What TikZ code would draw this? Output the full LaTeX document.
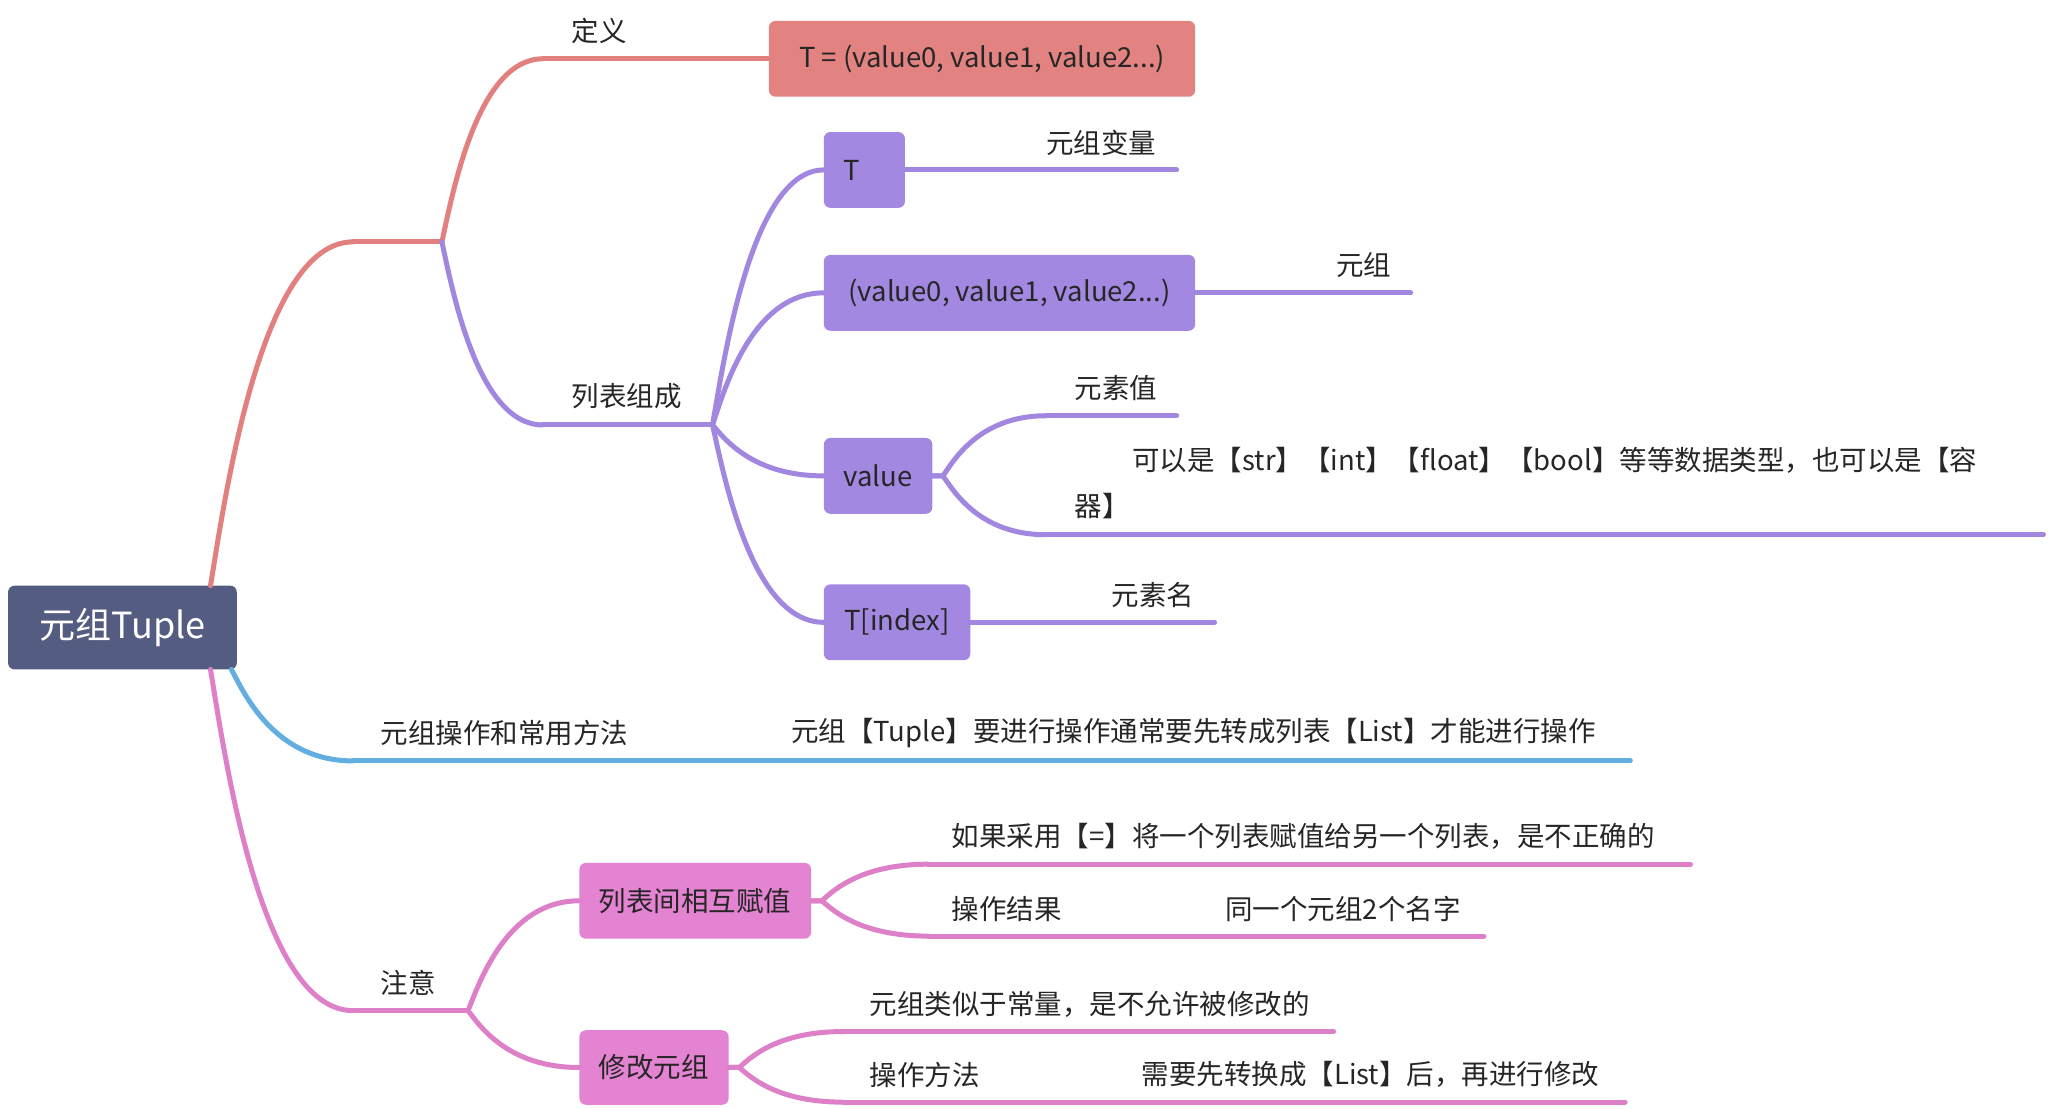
\documentclass[tikz,border=0pt]{standalone}
\usepackage{fontspec}
\setmainfont{Noto Sans CJK SC}
\usetikzlibrary{calc}
\definecolor{cRoot}{HTML}{555C82}
\definecolor{cRed}{HTML}{E1807E}
\definecolor{cRedBox}{HTML}{E38381}
\definecolor{cPur}{HTML}{A187DF}
\definecolor{cPurBox}{HTML}{A288E0}
\definecolor{cBlue}{HTML}{62AEE0}
\definecolor{cPink}{HTML}{DE80C8}
\definecolor{cPinkBox}{HTML}{E383D1}
\definecolor{cTxt}{HTML}{262626}
\def\uu{1.3074pt}
\newcommand\lblfont{\fontsize{27.5pt}{46pt}\selectfont}
\newcommand\rootfont{\fontsize{36pt}{42pt}\selectfont}
% connector: style, from, to, stub
\newcommand\mmc[4]{\draw[#1] let \p1=(#2), \p2=(#3) in (\p1) -- ++(#4,0) let \p3=($(\p1)+(#4,0)$) in .. controls ({\x3+0.1*(\x2-\x3)},{\y3+0.25*(\y2-\y3)}) and ({\x3+0.35*(\x2-\x3)},{\y2}) .. (\p2);}
\begin{document}
\begin{tikzpicture}[x=1.3074pt,y=-1.3074pt,
  ln/.style={line width=5pt, line cap=round},
  lbl/.style={anchor=west, inner sep=0pt, font=\lblfont, text=cTxt},
  box/.style={anchor=west, rounded corners=6.5pt, minimum height=58*\uu, inner xsep=15*\uu, inner ysep=0pt, font=\lblfont, text=cTxt}]
\useasboundingbox (0,0) rectangle (1568,847.5);
\fill[white] (0,0) rectangle (1568,847.5);

% root
\node[box, fill=cRoot, text=white, font=\rootfont, minimum width=175*\uu, minimum height=64*\uu] (root) at (6,480) {元组Tuple};
\coordinate (rTop) at (161,448);
\coordinate (rBlue) at (177,512);
\coordinate (rPink) at (161,512);

% ===== red branch
\coordinate (j1a) at (270,185);
\coordinate (j1) at (338,185);
\coordinate (d1) at (415,45);
\node[box, fill=cRedBox, minimum width=326*\uu] (defbox) at (588,45) {T = (value0, value1, value2...)};
\node[lbl] (lDef) at (437,24) {定义};
\mmc{ln, cRed}{rTop}{j1a}{0}
\draw[ln, cRed] (j1a) -- (j1);
\mmc{ln, cRed}{j1}{d1}{0}
\draw[ln, cRed] (d1) -- (defbox.west);

% ===== purple branch
\coordinate (l1) at (415,325);
\coordinate (l2) at (545,325);
\node[lbl] (lList) at (437,303) {列表组成};
\mmc{ln, cPur}{j1}{l1}{0}
\draw[ln, cPur] (l1) -- (l2);

\node[box, fill=cPurBox, minimum width=62*\uu, text width=32*\uu, align=left] (tbox) at (630,130) {T};
\node[box, fill=cPurBox, minimum width=284*\uu] (tupbox) at (630,224) {(value0, value1, value2...)};
\node[box, fill=cPurBox, minimum width=83*\uu] (valbox) at (630,364) {value};
\node[box, fill=cPurBox, minimum width=112*\uu] (idxbox) at (630,476) {T[index]};
\mmc{ln, cPur}{l2}{tbox.west}{0}
\mmc{ln, cPur}{l2}{tupbox.west}{0}
\mmc{ln, cPur}{l2}{valbox.west}{0}
\mmc{ln, cPur}{l2}{idxbox.west}{0}

\coordinate (tEnd) at (900,130);
\draw[ln, cPur] (tbox.east) -- (tEnd);
\node[lbl] (lTvar) at (800,109) {元组变量};

\coordinate (tupEnd) at (1079,224);
\draw[ln, cPur] (tupbox.east) -- (tupEnd);
\node[lbl] (lTup) at (1022,203) {元组};

\coordinate (v1) at (800,318);
\coordinate (v1e) at (900,318);
\coordinate (v2) at (800,409);
\coordinate (v2e) at (1563,409);
\mmc{ln, cPur}{valbox.east}{v1}{8}
\mmc{ln, cPur}{valbox.east}{v2}{8}
\draw[ln, cPur] (v1) -- (v1e);
\draw[ln, cPur] (v2) -- (v2e);
\node[lbl] (lElemVal) at (822,297) {元素值};
\node[lbl, anchor=north west, align=left] (lTypes) at (822,342) {\hspace*{57.5pt}可以是【str】【int】【float】【bool】等等数据类型，也可以是【容\\器】};

\coordinate (idxEnd) at (929,476);
\draw[ln, cPur] (idxbox.east) -- (idxEnd);
\node[lbl] (lElemName) at (850,455) {元素名};

% ===== blue branch
\coordinate (b1) at (270,582);
\coordinate (bEnd) at (1247,582);
\mmc{ln, cBlue}{rBlue}{b1}{0}
\draw[ln, cBlue] (b1) -- (bEnd);
\node[lbl] (lOps) at (291,561) {元组操作和常用方法};
\node[lbl] (lOpsTxt) at (605,561) {元组【Tuple】要进行操作通常要先转成列表【List】才能进行操作};

% ===== pink branch
\coordinate (p1) at (270,773);
\coordinate (p2) at (358,773);
\node[lbl] (lNote) at (291,752) {注意};
\mmc{ln, cPink}{rPink}{p1}{0}
\draw[ln, cPink] (p1) -- (p2);
\node[box, fill=cPinkBox, minimum width=177*\uu] (asgbox) at (443,689) {列表间相互赋值};
\node[box, fill=cPinkBox, minimum width=113*\uu, minimum height=57*\uu] (modbox) at (443,816.5) {修改元组};
\mmc{ln, cPink}{p2}{asgbox.west}{0}
\mmc{ln, cPink}{p2}{modbox.west}{0}

\coordinate (a1) at (710,661);
\coordinate (a1e) at (1293,661);
\coordinate (a2) at (710,716);
\coordinate (a2e) at (1135,716);
\mmc{ln, cPink}{asgbox.east}{a1}{8}
\mmc{ln, cPink}{asgbox.east}{a2}{8}
\draw[ln, cPink] (a1) -- (a1e);
\draw[ln, cPink] (a2) -- (a2e);
\node[lbl] (lIf) at (728,640) {如果采用【=】将一个列表赋值给另一个列表，是不正确的};
\node[lbl] (lRes) at (728,695) {操作结果};
\node[lbl] (lSame) at (937,695) {同一个元组2个名字};

\coordinate (m1) at (645,789);
\coordinate (m1e) at (1020,789);
\coordinate (m2) at (645,843);
\coordinate (m2e) at (1243,843);
\mmc{ln, cPink}{modbox.east}{m1}{8}
\mmc{ln, cPink}{modbox.east}{m2}{8}
\draw[ln, cPink] (m1) -- (m1e);
\draw[ln, cPink] (m2) -- (m2e);
\node[lbl] (lConst) at (665,768) {元组类似于常量，是不允许被修改的};
\node[lbl] (lMeth) at (665,822) {操作方法};
\node[lbl] (lNeed) at (873,822) {需要先转换成【List】后，再进行修改};
\end{tikzpicture}
\end{document}
